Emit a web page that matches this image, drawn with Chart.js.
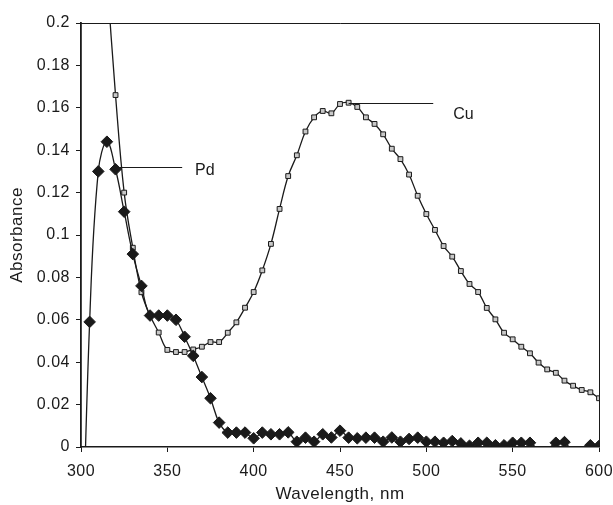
<!DOCTYPE html>
<html>
<head>
<meta charset="utf-8">
<script src="https://cdn.jsdelivr.net/npm/chart.js@4/dist/chart.umd.min.js"></script>
<style>
  html, body { margin: 0; padding: 0; background: #fff; }
  #wrap { width: 613px; height: 505px; }
</style>
</head>
<body>
<div id="wrap"><canvas id="spectra" width="613" height="505"></canvas></div>
<script>
// wavelength grid (nm), one reading every 5 nm
const wavelengths = [
  300, 305, 310, 315, 320, 325, 330, 335, 340, 345,
  350, 355, 360, 365, 370, 375, 380, 385, 390, 395,
  400, 405, 410, 415, 420, 425, 430, 435, 440, 445,
  450, 455, 460, 465, 470, 475, 480, 485, 490, 495,
  500, 505, 510, 515, 520, 525, 530, 535, 540, 545,
  550, 555, 560, 565, 570, 575, 580, 585, 590, 595,
  600
];

// absorbance
const pdAbs = [
  -0.08, 0.059, 0.130, 0.144, 0.131, 0.111, 0.091, 0.076, 0.062, 0.062,
  0.062, 0.060, 0.052, 0.043, 0.033, 0.023, 0.0115, 0.0068, 0.0068, 0.0068,
  0.0041, 0.0068, 0.006, 0.006, 0.0069, 0.0025, 0.0044, 0.0025, 0.006, 0.0045,
  0.0077, 0.0044, 0.0041, 0.0044, 0.0044, 0.0025, 0.0045, 0.0025, 0.0038, 0.0044,
  0.0025, 0.0025, 0.002, 0.0028, 0.0017, 0.0006, 0.002, 0.002, 0.0008, 0.0008,
  0.002, 0.002, 0.002, -0.001, -0.001, 0.002, 0.0023, -0.002, -0.001, 0.0008,
  0.0005
];

const cuAbs = [
  0.40, 0.34, 0.28, 0.222, 0.166, 0.120, 0.094, 0.073, 0.062, 0.054,
  0.0458, 0.0448, 0.0448, 0.046, 0.0473, 0.0495, 0.0495, 0.0539, 0.0588, 0.0657,
  0.0731, 0.0833, 0.0958, 0.1123, 0.1278, 0.1376, 0.1488, 0.1555, 0.1585, 0.1574,
  0.1618, 0.1624, 0.1604, 0.1555, 0.1524, 0.1475, 0.1407, 0.1358, 0.1285, 0.1185,
  0.1099, 0.1024, 0.0948, 0.0898, 0.083, 0.0769, 0.0731, 0.0656, 0.0602, 0.0539,
  0.0508, 0.0473, 0.0442, 0.0398, 0.0366, 0.035, 0.0313, 0.0289, 0.0269, 0.0258,
  0.023
];

const xTickValues = [300, 350, 400, 450, 500, 550, 600];
const xTickLabels = ['300', '350', '400', '450', '500', '550', '600'];
const yTickValues = [0, 0.02, 0.04, 0.06, 0.08, 0.1, 0.12, 0.14, 0.16, 0.18, 0.2];
const yTickLabels = ['0', '0.02', '0.04', '0.06', '0.08', '0.1', '0.12', '0.14', '0.16', '0.18', '0.2'];

// leader lines naming each curve: from a point on the curve out to the label
const curveLabels = [
  { text: 'Pd', from: [320, 0.1319], to: 358.6, at: [366, 0.1303] },
  { text: 'Cu', from: [455, 0.1625], to: 504, at: [515.6, 0.1566] }
];

const INK = '#1a1a1a';
const FONT = "'Liberation Sans', Arial, sans-serif";

function toPoints(values) {
  return wavelengths.map((w, i) => ({ x: w, y: values[i] }));
}

// the source figure has slightly tracked lettering
const spacing = {
  id: 'spacing',
  beforeUpdate(chart) { chart.ctx.letterSpacing = '0.5px'; },
  beforeDraw(chart) { chart.ctx.letterSpacing = '0.5px'; }
};

const frame = {
  id: 'frame',
  afterDraw(chart) {
    const { ctx, chartArea: a } = chart;
    ctx.save();
    ctx.strokeStyle = INK;
    ctx.lineWidth = 1;
    ctx.beginPath();
    ctx.moveTo(a.left, a.top + 0.5);
    ctx.lineTo(a.right + 0.5, a.top + 0.5);
    ctx.lineTo(a.right + 0.5, a.bottom);
    ctx.stroke();
    ctx.restore();
  }
};

const leaders = {
  id: 'leaders',
  afterDatasetsDraw(chart) {
    const { ctx, scales: { x, y } } = chart;
    ctx.save();
    ctx.letterSpacing = '0px';
    ctx.strokeStyle = INK;
    ctx.fillStyle = INK;
    ctx.lineWidth = 1;
    ctx.font = '16px ' + FONT;
    ctx.textBaseline = 'middle';
    curveLabels.forEach(l => {
      const yy = Math.round(y.getPixelForValue(l.from[1])) + 0.5;
      ctx.beginPath();
      ctx.moveTo(x.getPixelForValue(l.from[0]), yy);
      ctx.lineTo(x.getPixelForValue(l.to), yy);
      ctx.stroke();
      ctx.fillText(l.text, x.getPixelForValue(l.at[0]), y.getPixelForValue(l.at[1]));
    });
    ctx.restore();
  }
};

const ctx = document.getElementById('spectra').getContext('2d');
new Chart(ctx, {
  type: 'line',
  data: {
    datasets: [
      {
        label: 'Pd',
        data: toPoints(pdAbs),
        borderColor: INK,
        borderWidth: 1.3,
        tension: 0.4,
        pointStyle: 'rectRot',
        pointRadius: c => (c.parsed && c.parsed.y < 0 ? 0 : 5.8),
        pointBackgroundColor: INK,
        pointBorderColor: INK,
        pointBorderWidth: 1,
        fill: false
      },
      {
        label: 'Cu',
        data: toPoints(cuAbs),
        borderColor: INK,
        borderWidth: 1.3,
        tension: 0.4,
        pointStyle: 'rect',
        pointRadius: c => (c.parsed && c.parsed.y > 0.2 ? 0 : 3.4),
        pointBackgroundColor: '#c8c8c8',
        pointBorderColor: INK,
        pointBorderWidth: 1,
        fill: false
      }
    ]
  },
  options: {
    responsive: false,
    animation: false,
    events: [],
    layout: { padding: { top: 23, right: 14, left: 0, bottom: 0 } },
    plugins: {
      legend: { display: false },
      tooltip: { enabled: false }
    },
    scales: {
      x: {
        type: 'linear',
        min: 300,
        max: 600,
        afterFit: s => {
          s.height = 58;
          s.paddingLeft = 0;
          s.paddingRight = 0;
        },
        afterBuildTicks: s => { s.ticks = xTickValues.map(v => ({ value: v })); },
        border: { display: true, color: INK, width: 1.6 },
        grid: { display: true, drawOnChartArea: false, drawTicks: true, tickLength: 5, color: INK, lineWidth: 1 },
        ticks: {
          color: INK,
          font: { family: FONT, size: 16 },
          padding: 10,
          maxRotation: 0,
          callback: (v, i) => xTickLabels[i]
        },
        title: {
          display: true,
          text: 'Wavelength, nm',
          color: INK,
          font: { family: FONT, size: 17 },
          padding: { top: 0, bottom: 0 }
        }
      },
      y: {
        min: 0,
        max: 0.2,
        afterFit: s => {
          s.width = 81;
          s.paddingTop = 0;
          s.paddingBottom = 0;
        },
        afterBuildTicks: s => { s.ticks = yTickValues.map(v => ({ value: v })); },
        border: { display: true, color: INK, width: 1.8 },
        grid: { display: true, drawOnChartArea: false, drawTicks: true, tickLength: 5, color: INK, lineWidth: 1 },
        ticks: {
          color: INK,
          font: { family: FONT, size: 16 },
          padding: 6,
          callback: (v, i) => yTickLabels[i]
        },
        title: {
          display: true,
          text: 'Absorbance',
          color: INK,
          font: { family: FONT, size: 17 },
          padding: { top: 7, bottom: 0 }
        }
      }
    }
  },
  plugins: [spacing, frame, leaders]
});
</script>
</body>
</html>
